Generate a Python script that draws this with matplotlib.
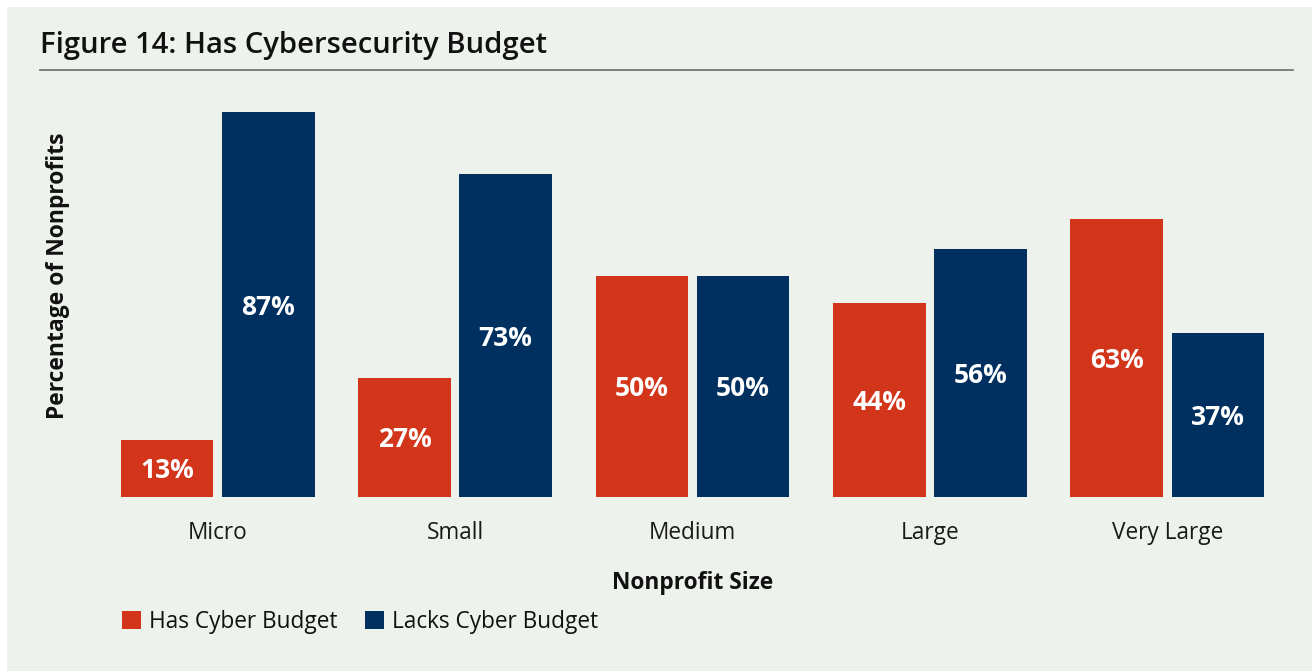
import matplotlib
matplotlib.use("Agg")
import matplotlib.pyplot as plt
from matplotlib.patches import Rectangle, Patch
from matplotlib.lines import Line2D
import matplotlib.transforms as mtransforms
import numpy as np

plt.rcParams['font.family'] = ['Open Sans', 'DejaVu Sans']

sizes = ["Micro", "Small", "Medium", "Large", "Very Large"]
has_budget = [13, 27, 50, 44, 63]
lacks_budget = [87, 73, 50, 56, 37]
series_names = ["Has Cyber Budget", "Lacks Cyber Budget"]

RED = "#D2351A"
NAVY = "#00305F"
BG = "#EEF2EC"

W, H = 1312, 671
fig = plt.figure(figsize=(W / 100, H / 100), dpi=100)
fig.patch.set_facecolor("white")

# panel background (white margin on top and left)
fig.add_artist(Rectangle((7 / W, 0), 1 - 7 / W, 1 - 7 / H, transform=fig.transFigure,
                         facecolor=BG, edgecolor="none", zorder=0))

# title and rule
fig.text(40 / W, 1 - 46 / H, "Figure 14: Has Cybersecurity Budget", fontsize=21.1,
         fontweight="semibold", color="#111111", va="center", ha="left")
fig.add_artist(Line2D([40 / W, 1293 / W], [1 - 70 / H, 1 - 70 / H], transform=fig.transFigure,
                      color="#777777", linewidth=1.3))

ax_left, ax_right, ax_top, ax_bottom = 99, 1286, 55, 497
ax = fig.add_axes([ax_left / W, 1 - ax_bottom / H, (ax_right - ax_left) / W, (ax_bottom - ax_top) / H])
ax.set_facecolor("none")

x = np.arange(len(sizes))
bw = 0.39
off = 0.213
b1 = ax.bar(x - off, has_budget, bw, color=RED, label=series_names[0])
b2 = ax.bar(x + off, lacks_budget, bw, color=NAVY, label=series_names[1])

# value labels sit at mid-height, nudged slightly down
label_tf = ax.transData + mtransforms.ScaledTranslation(0, -2.5 / 100, fig.dpi_scale_trans)
for bars, vals in ((b1, has_budget), (b2, lacks_budget)):
    for b, v in zip(bars, vals):
        ax.text(b.get_x() + b.get_width() / 2, v / 2, f"{v}%", ha="center", va="center",
                color="white", fontsize=19, fontweight="bold", transform=label_tf)

ax.set_xlim(-0.5, len(sizes) - 0.5)
ax.set_ylim(0, 100)
ax.set_xticks(x)
ax.set_xticklabels(sizes, fontsize=16.3, color="#1a1a1a")
ax.tick_params(axis="x", length=0, pad=17.5)
ax.set_yticks([])
for s in ax.spines.values():
    s.set_visible(False)

ax.set_xlabel("Nonprofit Size", fontsize=16.4, fontweight="bold", color="#111111", labelpad=18.5)
fig.text(58 / W, 1 - 276 / H, "Percentage of Nonprofits", rotation=90, fontsize=16.5,
         fontweight="bold", color="#111111", ha="center", va="center")

handles = [Patch(facecolor=RED, edgecolor="none"), Patch(facecolor=NAVY, edgecolor="none")]
fig.legend(handles, series_names, loc="center left", bbox_to_anchor=(122 / W, 1 - 622 / H),
           ncol=2, frameon=False, fontsize=16.3, handlelength=0.84, handleheight=0.84,
           handletextpad=0.35, columnspacing=1.2, borderpad=0, borderaxespad=0,
           labelcolor="#111111")

fig.savefig("out.png", dpi=100, facecolor=fig.get_facecolor())
